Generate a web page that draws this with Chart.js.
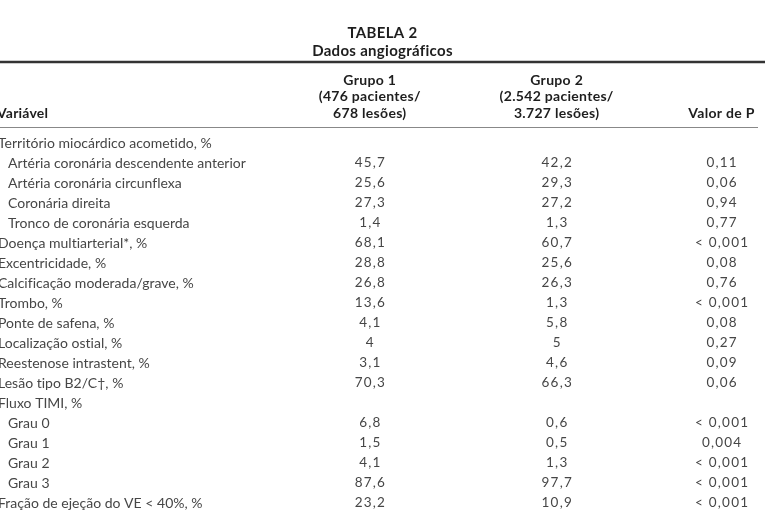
<!DOCTYPE html>
<html>
<head>
<meta charset="utf-8">
<script src="https://cdn.jsdelivr.net/npm/chart.js@4/dist/chart.umd.min.js"></script>
<style>
  body { margin: 0; background: #fff; }
  #wrap { width: 765px; height: 521px; position: relative; }
</style>
</head>
<body>
<div id="wrap"><canvas id="tabela"></canvas></div>
<script>
// ================== Dados ==================
const titulo = ['TABELA 2', 'Dados angiográficos'];
const cabecalhos = [
  ['Grupo 1', '(476 pacientes/', '678 lesões)'],
  ['Grupo 2', '(2.542 pacientes/', '3.727 lesões)'],
  'Valor de P'
];
const variaveis = [
  'Território miocárdico acometido, %',
  'Artéria coronária descendente anterior',
  'Artéria coronária circunflexa',
  'Coronária direita',
  'Tronco de coronária esquerda',
  'Doença multiarterial*, %',
  'Excentricidade, %',
  'Calcificação moderada/grave, %',
  'Trombo, %',
  'Ponte de safena, %',
  'Localização ostial, %',
  'Reestenose intrastent, %',
  'Lesão tipo B2/C\u2020, %',
  'Fluxo TIMI, %',
  'Grau 0',
  'Grau 1',
  'Grau 2',
  'Grau 3',
  'Fração de ejeção do VE < 40%, %'
];
const subitens = ['Artéria coronária descendente anterior', 'Artéria coronária circunflexa',
  'Coronária direita', 'Tronco de coronária esquerda', 'Grau 0', 'Grau 1', 'Grau 2', 'Grau 3'];
const grupo1 = [null, 45.7, 25.6, 27.3, 1.4, 68.1, 28.8, 26.8, 13.6, 4.1, 4, 3.1, 70.3, null, 6.8, 1.5, 4.1, 87.6, 23.2];
const grupo2 = [null, 42.2, 29.3, 27.2, 1.3, 60.7, 25.6, 26.3, 1.3, 5.8, 5, 4.6, 66.3, null, 0.6, 0.5, 1.3, 97.7, 10.9];
const valorP = [null, '0,11', '0,06', '0,94', '0,77', '< 0,001', '0,08', '0,76', '< 0,001', '0,08',
  '0,27', '0,09', '0,06', null, '< 0,001', '0,004', '< 0,001', '< 0,001', '< 0,001'];

// ================== Layout ==================
const centroColunas = [370, 557, 722]; // centro de cada coluna (px no canvas)
const margemEsq = -2;                 // a coluna da esquerda vem cortada no original
const recuo = 10;                     // recuo dos subitens
const linhaGrossaY = 62;
const linhaFinaY = 127;
const corTexto = '#464646';
const corCabecalho = '#1e1e1e';

const fmt = v => String(v).replace('.', ',');

function montarSerie(valores, coluna) {
  const pts = [];
  valores.forEach((v, i) => {
    if (v === null) return;
    pts.push({ x: centroColunas[coluna], y: variaveis[i], texto: typeof v === 'number' ? fmt(v) : v });
  });
  return pts;
}

// ================== Plugin: textos, filetes ==================
const celulas = {
  id: 'celulas',
  beforeDraw(chart) {
    // espaçamento das letras do título e do cabeçalho
    chart.ctx.letterSpacing = '0.3px';
  },
  afterDatasetsDraw(chart) {
    const ctx = chart.ctx;
    const ys = chart.scales.y;
    const xs = chart.scales.x;
    ctx.save();
    ctx.textBaseline = 'middle';

    // nomes das variáveis (espaçamento mínimo só para evitar a ligadura "ti")
    ctx.font = '14px Lato';
    ctx.letterSpacing = '0.01px';
    ctx.fillStyle = corTexto;
    ctx.textAlign = 'left';
    variaveis.forEach((nome, i) => {
      const x = margemEsq + (subitens.includes(nome) ? recuo : 0);
      ctx.fillText(nome, x, ys.getPixelForValue(i));
    });

    // valores
    ctx.font = '13.5px Lato';
    ctx.letterSpacing = '1.2px';
    ctx.textAlign = 'center';
    chart.data.datasets.forEach((ds, di) => {
      chart.getDatasetMeta(di).data.forEach((pt, i) => {
        ctx.fillText(ds.data[i].texto, pt.x + 0.6, pt.y);
      });
    });

    // "Variável" na mesma linha do fim do cabeçalho
    ctx.font = 'bold 14px Lato';
    ctx.letterSpacing = '0.2px';
    ctx.fillStyle = corCabecalho;
    ctx.textAlign = 'left';
    ctx.fillText('Variável', -3, xs.bottom - xs.options.ticks.padding - 8.25);

    ctx.strokeStyle = '#333';
    ctx.lineWidth = 2.5;
    ctx.beginPath(); ctx.moveTo(0, linhaGrossaY); ctx.lineTo(765, linhaGrossaY); ctx.stroke();
    ctx.strokeStyle = '#888';
    ctx.lineWidth = 1;
    ctx.beginPath(); ctx.moveTo(0, linhaFinaY + 0.5); ctx.lineTo(758, linhaFinaY + 0.5); ctx.stroke();
    ctx.restore();
  }
};

Chart.defaults.font.family = 'Lato';

new Chart(document.getElementById('tabela'), {
  type: 'scatter',
  data: {
    datasets: [
      { label: 'Grupo 1', data: montarSerie(grupo1, 0), pointRadius: 0 },
      { label: 'Grupo 2', data: montarSerie(grupo2, 1), pointRadius: 0 },
      { label: 'Valor de P', data: montarSerie(valorP, 2), pointRadius: 0 }
    ]
  },
  options: {
    responsive: true,
    maintainAspectRatio: false,
    animation: false,
    layout: { padding: { left: 0, right: 0, top: 0, bottom: 8 } },
    plugins: {
      legend: { display: false },
      tooltip: { enabled: false },
      title: {
        display: true,
        text: titulo,
        color: corCabecalho,
        font: { size: 15, weight: 'bold', lineHeight: 18 / 15 },
        padding: { top: 24, bottom: 0 }
      }
    },
    scales: {
      x: {
        type: 'linear',
        position: 'top',
        min: 0,
        max: 765,
        grid: { display: false, drawTicks: false },
        border: { display: false },
        afterBuildTicks: s => { s.ticks = centroColunas.map(v => ({ value: v })); },
        ticks: {
          autoSkip: false,
          maxRotation: 0,
          padding: 11.75,
          color: corCabecalho,
          font: { size: 14, weight: 'bold', lineHeight: 16.5 / 14 },
          callback: (v, i) => cabecalhos[i]
        }
      },
      y: {
        type: 'category',
        labels: variaveis,
        offset: true,
        display: false
      }
    }
  },
  plugins: [celulas]
});
</script>
</body>
</html>
